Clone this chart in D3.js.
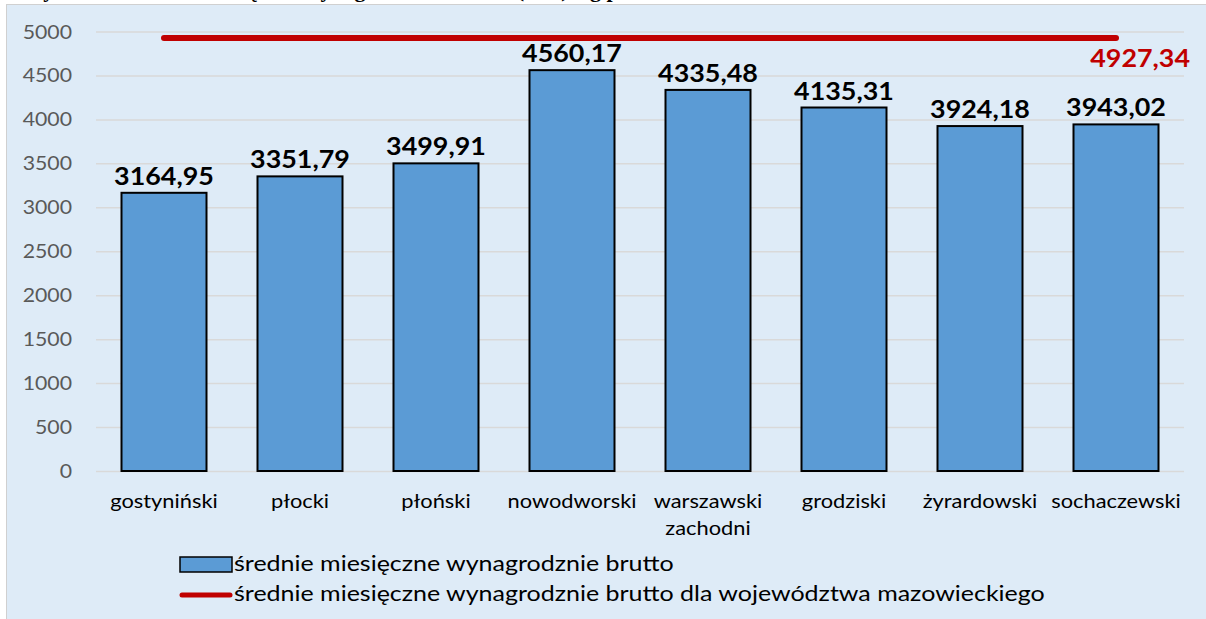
<!DOCTYPE html>
<html>
<head>
<meta charset="utf-8">
<script src="https://cdn.jsdelivr.net/npm/d3@7"></script>
<style>
  body { margin: 0; background: #fff; }
  svg text { font-family: Lato, "Open Sans", sans-serif; }
</style>
</head>
<body>
<div id="chart"></div>
<script>
var w = 1206,
    h = 619,
    left = 96,
    right = 1184,
    top_y = 31.5,
    bottom_y = 471;

var categories = ['gostyniński', 'płocki', 'płoński', 'nowodworski',
                  'warszawski zachodni', 'grodziski', 'żyrardowski', 'sochaczewski'];
var values = [3164.95, 3351.79, 3499.91, 4560.17, 4335.48, 4135.31, 3924.18, 3943.02];
var regionAvg = 4927.34;
var yTicks = [0, 500, 1000, 1500, 2000, 2500, 3000, 3500, 4000, 4500, 5000];
var legendLabels = ['średnie miesięczne wynagrodznie brutto',
                    'średnie miesięczne wynagrodznie brutto dla województwa mazowieckiego'];
var titleText = 'Wykres 9. Średnie miesięczne wynagrodzenie brutto (w zł) wg powiatów';

var barColor = '#5b9bd5',
    redColor = '#c00000',
    sx = 1.12; // text looks stretched sideways in the original

var fmt = d3.formatLocale({decimal: ',', thousands: '', grouping: [3], currency: ['', '']}).format('.2f');

var svg = d3.select('#chart').append('svg')
    .attr('width', w)
    .attr('height', h);

// title, mostly cut off at top
svg.append('text')
    .attr('transform', 'translate(22,-3)')
    .style('font-family', '"Liberation Serif", serif')
    .style('font-weight', 'bold')
    .style('font-size', '22px')
    .text(titleText);

// chart box
svg.append('rect')
    .attr('x', 6.5).attr('y', 4.5)
    .attr('width', w).attr('height', h)
    .attr('fill', '#deebf7')
    .attr('stroke', '#d0d0d0');

var x = d3.scaleBand().domain(categories).range([left, right])
    .paddingInner(0.375).paddingOuter(0.1875);
var y = d3.scaleLinear().domain([0, 5000]).range([bottom_y, top_y]);

// gridlines + y labels
var yAxis = d3.axisLeft(y).tickValues(yTicks).tickSize(-(right - left)).tickFormat(d3.format('d'));
var gy = svg.append('g')
    .attr('transform', 'translate(' + left + ',0)')
    .call(yAxis);
gy.select('.domain').remove();
gy.selectAll('.tick line').attr('stroke', '#d9d9d9').attr('stroke-width', 1.5);
gy.selectAll('.tick text')
    .attr('x', null).attr('dy', null)
    .attr('transform', 'translate(-24,6.5) scale(' + sx + ',1)')
    .attr('fill', '#595959')
    .style('font-size', '19px')
    .style('font-family', 'Lato, sans-serif');

// bars
svg.selectAll('rect.bar')
    .data(values)
    .enter()
    .append('rect')
    .attr('class', 'bar')
    .attr('x', function (d, i) { return x(categories[i]); })
    .attr('y', function (d) { return y(d); })
    .attr('width', x.bandwidth())
    .attr('height', function (d) { return y(0) - y(d); })
    .attr('fill', barColor)
    .attr('stroke', '#000')
    .attr('stroke-width', 2);

// value labels
svg.selectAll('text.val')
    .data(values)
    .enter()
    .append('text')
    .attr('class', 'val')
    .attr('transform', function (d, i) {
        return 'translate(' + (x(categories[i]) + x.bandwidth() / 2) + ',' + (y(d) - 8) + ') scale(' + sx + ',1)';
    })
    .attr('text-anchor', 'middle')
    .style('font-weight', 'bold')
    .style('font-size', '24px')
    .text(function (d) { return fmt(d); });

// category labels
var gx = svg.append('g');
categories.forEach(function (c) {
    var t = gx.append('text')
        .attr('transform', 'translate(' + (x(c) + x.bandwidth() / 2) + ',508) scale(' + sx + ',1)')
        .attr('text-anchor', 'middle')
        .style('font-size', '19.5px')
        .attr('fill', '#000');
    c.split(' ').forEach(function (part, k) {
        t.append('tspan').attr('x', 0).attr('dy', k ? 27 : 0).text(part);
    });
});

// regional average line
var x0 = x(categories[0]) + x.bandwidth() / 2,
    x1 = x(categories[categories.length - 1]) + x.bandwidth() / 2;
svg.append('line')
    .attr('x1', x0).attr('x2', x1)
    .attr('y1', y(regionAvg)).attr('y2', y(regionAvg))
    .attr('stroke', redColor)
    .attr('stroke-width', 6)
    .attr('stroke-linecap', 'round');

svg.append('text')
    .attr('transform', 'translate(' + (right + 6) + ',' + (y(regionAvg) + 29) + ') scale(' + sx + ',1)')
    .attr('text-anchor', 'end')
    .attr('fill', redColor)
    .style('font-weight', 'bold')
    .style('font-size', '24px')
    .text(fmt(regionAvg));

// legend
var lg = svg.append('g').attr('transform', 'translate(180,557)');
lg.append('rect')
    .attr('x', 0).attr('y', 0)
    .attr('width', 52).attr('height', 15)
    .attr('fill', barColor)
    .attr('stroke', '#000')
    .attr('stroke-width', 1.5);
lg.append('line')
    .attr('x1', 2).attr('x2', 50)
    .attr('y1', 38).attr('y2', 38)
    .attr('stroke', redColor)
    .attr('stroke-width', 5)
    .attr('stroke-linecap', 'round');
legendLabels.forEach(function (l, i) {
    lg.append('text')
        .attr('transform', 'translate(54,' + (14 + i * 30) + ') scale(1.19,1)')
        .style('font-size', '21px')
        .text(l);
});
</script>
</body>
</html>
